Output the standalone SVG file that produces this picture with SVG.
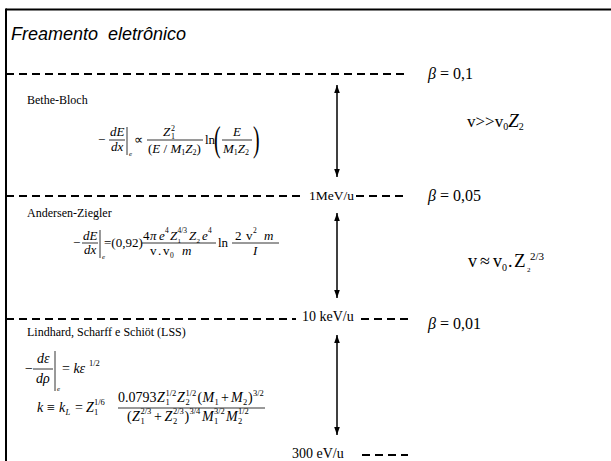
<svg xmlns="http://www.w3.org/2000/svg" width="611" height="461" viewBox="0 0 611 461">
<style>
.t{font-family:"Liberation Serif","Times New Roman",serif;fill:#000}
.i{font-style:italic}
.dash{stroke:#000;stroke-width:2;stroke-dasharray:8 5;fill:none}
.bar{stroke:#000;stroke-width:0.8;fill:none}
.arr{stroke:#000;stroke-width:1.5;fill:none;marker-start:url(#ah);marker-end:url(#ah)}
.f1{font-size:13px}
.f3{font-size:14px}
.s{font-size:8px}
.s3{font-size:8.5px}
.lbl{font-size:12px}
.lev{font-size:14px}
.beta{font-size:16px}
</style>
<defs>
<marker id="ah" viewBox="0 0 8 8" refX="8" refY="4" markerWidth="8" markerHeight="8" markerUnits="userSpaceOnUse" orient="auto-start-reverse"><path d="M0,1.2 L8,4 L0,6.8 z" fill="#000"/></marker>
</defs>
<rect width="611" height="461" fill="#fff"/>
<g id="frame">
<line x1="6" y1="9.5" x2="611" y2="9.5" stroke="#000" stroke-width="2"/>
<line x1="6" y1="8.5" x2="6" y2="461" stroke="#000" stroke-width="2"/>
</g>
<g id="title">
<text x="11" y="40" xml:space="preserve" style="font-family:'Liberation Sans',Arial,sans-serif;font-size:18px;font-style:italic">Freamento  eletrônico</text>
</g>
<g id="levels">
<line class="dash" x1="6" y1="74" x2="408" y2="74"/>
<line class="dash" x1="6" y1="196" x2="302" y2="196"/>
<text class="t" x="309" y="200" font-size="13.5">1MeV/u</text>
<line class="dash" x1="356" y1="196" x2="408" y2="196"/>
<line class="dash" x1="6" y1="319" x2="296" y2="319"/>
<text class="t lev" x="302" y="321">10 keV/u</text>
<line class="dash" x1="361" y1="319" x2="408" y2="319"/>
<text class="t lev" x="292" y="458">300 eV/u</text>
<line class="dash" x1="362" y1="455" x2="408" y2="455"/>
</g>
<g id="betas">
<text class="t beta" x="428" y="79"><tspan class="i">β</tspan> = 0,1</text>
<text class="t beta" x="428" y="201"><tspan class="i">β</tspan> = 0,05</text>
<text class="t beta" x="428" y="329"><tspan class="i">β</tspan> = 0,01</text>
</g>
<g id="connectors">
<line class="arr" x1="337" y1="85" x2="337" y2="177"/>
<line class="arr" x1="337" y1="213" x2="337" y2="298"/>
<line class="arr" x1="337" y1="335" x2="337" y2="435"/>
</g>
<g id="regime1">
<text class="t" x="467" y="127" style="font-size:17px">v&gt;&gt;v<tspan font-size="10" dy="3">0</tspan><tspan class="i" dy="-3" font-size="19">Z</tspan><tspan font-size="10" dy="3">2</tspan></text>
</g>
<g id="regime2">
<text class="t" x="468" y="267" font-size="18">v</text>
<text class="t" x="480" y="267" font-size="18">≈</text>
<text class="t" x="493" y="267" font-size="18">v</text>
<text class="t" x="502" y="271" font-size="10">0</text>
<text class="t" x="508" y="267" font-size="18">.</text>
<text class="t" x="514" y="267" font-size="19">Z</text>
<text class="t" x="527" y="272" font-size="7">2</text>
<text class="t" x="530" y="260" font-size="11">2/3</text>
</g>
<g id="bethe-bloch">
<text class="t lbl" x="27" y="104">Bethe-Bloch</text>
<text class="t f1" x="98" y="144">−</text>
<text class="t f1 i" x="110" y="136">dE</text>
<line class="bar" x1="109" y1="140" x2="125" y2="140"/>
<text class="t f1 i" x="111" y="151">dx</text>
<line class="bar" x1="127" y1="127" x2="127" y2="155"/>
<text class="t i" x="129" y="156" font-size="7">e</text>
<text class="t f1" x="134" y="144">∝</text>
<text class="t f1 i" x="163" y="136">Z</text>
<text class="t s" x="171" y="139">1</text>
<text class="t s" x="171" y="131">2</text>
<line class="bar" x1="147" y1="140" x2="203" y2="140"/>
<text class="t f1" x="148" y="153">(<tspan class="i">E</tspan> / <tspan class="i">M</tspan><tspan font-size="8" dy="2">1</tspan><tspan class="i" dy="-2">Z</tspan><tspan font-size="8" dy="2">2</tspan><tspan dy="-2">)</tspan></text>
<text class="t f1" x="205" y="144">ln</text>
<text class="t" transform="translate(214,151) scale(0.55,1)" font-size="36">(</text>
<text class="t f1 i" x="233" y="136">E</text>
<line class="bar" x1="222" y1="140" x2="252" y2="140"/>
<text class="t f1" x="223" y="153"><tspan class="i">M</tspan><tspan font-size="8" dy="2">1</tspan><tspan class="i" dy="-2">Z</tspan><tspan font-size="8" dy="2">2</tspan></text>
<text class="t" transform="translate(253,151) scale(0.55,1)" font-size="36">)</text>
</g>
<g id="andersen-ziegler">
<text class="t lbl" x="27" y="217">Andersen-Ziegler</text>
<text class="t f1" x="73" y="247">−</text>
<text class="t f1 i" x="83" y="240">dE</text>
<line class="bar" x1="82" y1="243" x2="98" y2="243"/>
<text class="t f1 i" x="84" y="254">dx</text>
<line class="bar" x1="100" y1="230" x2="100" y2="258"/>
<text class="t i" x="102" y="259" font-size="7">e</text>
<text class="t f1" x="104" y="247">=(0,92)</text>
<text class="t f1" x="143" y="240">4</text>
<text class="t f1 i" x="150" y="240">π</text>
<text class="t f1 i" x="159" y="240">e</text>
<text class="t" x="165" y="233" font-size="7.5">4</text>
<text class="t f1 i" x="170" y="240">Z</text>
<text class="t" x="177.5" y="242.5" font-size="7">1</text>
<text class="t" x="177.5" y="233" font-size="7.5">4/3</text>
<text class="t f1 i" x="189" y="240">Z</text>
<text class="t" x="196.5" y="242.5" font-size="7">2</text>
<text class="t f1 i" x="202" y="240">e</text>
<text class="t" x="208" y="233" font-size="7.5">4</text>
<line class="bar" x1="142" y1="243" x2="216" y2="243"/>
<text class="t f1" x="150" y="255">v</text>
<text class="t f1" x="158" y="255">.</text>
<text class="t f1" x="163" y="255">v</text>
<text class="t" x="170" y="258" font-size="7.5">0</text>
<text class="t f1 i" x="182" y="255">m</text>
<text class="t f1" x="218" y="247">ln</text>
<text class="t f1" x="235" y="240">2</text>
<text class="t f1" x="246" y="240">v</text>
<text class="t" x="253" y="233" font-size="7.5">2</text>
<text class="t f1 i" x="264" y="240">m</text>
<line class="bar" x1="232" y1="243" x2="279" y2="243"/>
<text class="t f1 i" x="253" y="255">I</text>
</g>
<g id="lss">
<text class="t lbl" x="27" y="336">Lindhard, Scharff e Schiöt (LSS)</text>
<text class="t f3" x="25" y="373">−</text>
<text class="t f3 i" x="37" y="363">dε</text>
<line class="bar" x1="33" y1="369" x2="53" y2="369"/>
<text class="t f3 i" x="36" y="383">dρ</text>
<line class="bar" x1="55" y1="351" x2="55" y2="391"/>
<text class="t i" x="57" y="391" font-size="7">e</text>
<text class="t f3" x="62" y="373">= <tspan class="i">kε</tspan></text>
<text class="t s3" x="89" y="366">1/2</text>
<text class="t f3 i" x="37" y="412">k</text>
<text class="t f3" x="47" y="412">≡</text>
<text class="t f3 i" x="59" y="412">k</text>
<text class="t s3 i" x="65.5" y="415">L</text>
<text class="t f3" x="75" y="412">=</text>
<text class="t f3 i" x="86" y="412">Z</text>
<text class="t s3" x="94" y="415">1</text>
<text class="t s3" x="94" y="405">1/6</text>
<text class="t f3" x="118" y="402">0.0793</text>
<text class="t f3 i" x="157" y="402">Z</text>
<text class="t s3" x="165.5" y="405">1</text>
<text class="t s3" x="165.5" y="396">1/2</text>
<text class="t f3 i" x="177" y="402">Z</text>
<text class="t s3" x="185.5" y="405">2</text>
<text class="t s3" x="185.5" y="396">1/2</text>
<text class="t f3" x="197.5" y="402">(</text>
<text class="t f3 i" x="202.5" y="402">M</text>
<text class="t s3" x="214.5" y="405">1</text>
<text class="t f3" x="221" y="402">+</text>
<text class="t f3 i" x="231" y="402">M</text>
<text class="t s3" x="243" y="405">2</text>
<text class="t f3" x="248" y="402">)</text>
<text class="t s3" x="253" y="396">3/2</text>
<line class="bar" x1="118" y1="408" x2="265" y2="408"/>
<text class="t f3" x="127" y="421">(</text>
<text class="t f3 i" x="132" y="421">Z</text>
<text class="t s3" x="140.5" y="424">1</text>
<text class="t s3" x="140.5" y="414">2/3</text>
<text class="t f3" x="154" y="421">+</text>
<text class="t f3 i" x="164.5" y="421">Z</text>
<text class="t s3" x="173" y="424">2</text>
<text class="t s3" x="173" y="414">2/3</text>
<text class="t f3" x="184.5" y="421">)</text>
<text class="t s3" x="189.5" y="414">3/4</text>
<text class="t f3 i" x="202" y="421">M</text>
<text class="t s3" x="214" y="424">1</text>
<text class="t s3" x="214" y="414">3/2</text>
<text class="t f3 i" x="226" y="421">M</text>
<text class="t s3" x="238" y="424">2</text>
<text class="t s3" x="238" y="414">1/2</text>
</g>
</svg>
